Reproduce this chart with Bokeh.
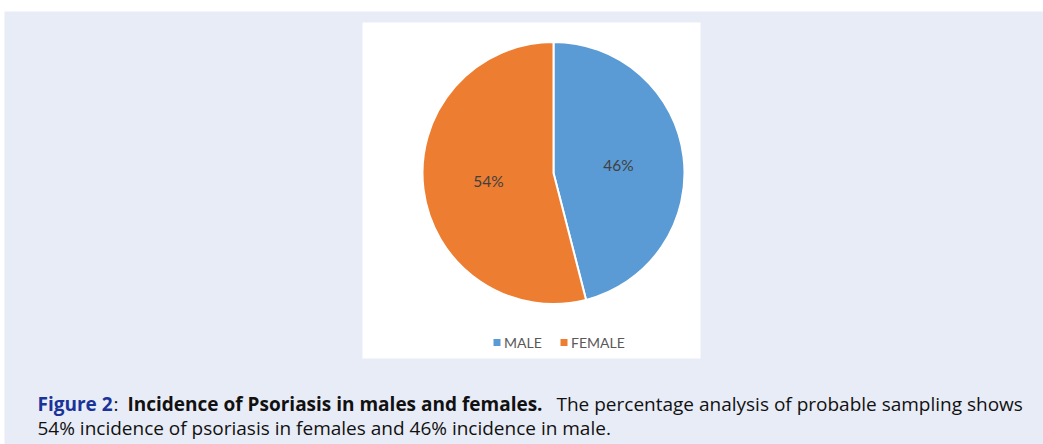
import math
from bokeh.plotting import figure
from bokeh.models import Range1d, ColumnDataSource
from bokeh.core.properties import value
from bokeh.embed import file_html
from bokeh.resources import INLINE

# ---- data ----
categories = ["MALE", "FEMALE"]
percentages = [46, 54]
slice_colors = ["#5B9BD5", "#ED7D31"]

caption_line1 = ["Figure 2", ":", "Incidence of Psoriasis in males and females.",
                 "The percentage analysis of probable sampling shows"]
caption_line2 = "54% incidence of psoriasis in females and 46% incidence in male."

W, H = 1043, 444
p = figure(width=W, height=H, output_backend="svg", toolbar_location=None,
           x_range=Range1d(0, W), y_range=Range1d(-H, 0),
           min_border=0, outline_line_color=None)
p.axis.visible = False
p.grid.visible = False
p.background_fill_color = "#FFFFFF"
p.border_fill_color = "#FFFFFF"

# light panel
p.quad(left=[4], right=[W + 10], top=[-11], bottom=[-H - 10], fill_color="#E8ECF6", line_color=None)
# white chart area
p.quad(left=[362], right=[700], top=[-22], bottom=[-358], fill_color="#FFFFFF", line_color=None)

# ---- pie ----
cx, cy, r = 553, -172.5, 131
total = sum(percentages)
starts, ends, mids = [], [], []
acc = 0.0
for v in percentages:
    a0 = math.pi / 2 - 2 * math.pi * acc / total
    acc += v
    a1 = math.pi / 2 - 2 * math.pi * acc / total
    starts.append(a0)
    ends.append(a1)
    mids.append((a0 + a1) / 2)

src = ColumnDataSource(dict(x=[cx] * len(percentages), y=[cy] * len(percentages),
                            start=starts, end=ends, color=slice_colors))
p.wedge(x="x", y="y", radius=r, radius_units="screen", start_angle="start", end_angle="end",
        direction="clock", fill_color="color", line_color="#FFFFFF", line_width=2, source=src)

lx = [cx + 0.5 * r * math.cos(m) for m in mids]
ly = [cy + 0.5 * r * math.sin(m) for m in mids]
p.text(x=lx, y=ly, text=[f"{v}%" for v in percentages], text_align="center",
       text_baseline="middle", text_color="#404040", text_font=value("Lato"),
       text_font_size="15.5px")

# ---- legend ----
leg_x = [496.5, 563.5]
p.rect(x=leg_x, y=[-342] * 2, width=7, height=7, width_units="screen", height_units="screen",
       fill_color=slice_colors, line_color=None)
p.text(x=[x + 7 for x in leg_x], y=[-342] * 2, text=categories, text_align="left",
       text_baseline="middle", text_color="#595959", text_font=value("Lato"),
       text_font_size="14px")

# ---- caption ----
font = value("Open Sans")
fs = "19px"
common = dict(text_font=font, text_font_size=fs, text_baseline="alphabetic")
p.text(x=[37], y=[-403], text=[caption_line1[0]], text_color="#1A3399",
       text_font_style="bold", **common)
p.text(x=[113], y=[-403], text=[caption_line1[1]], text_color="#111111", **common)
p.text(x=[127], y=[-403], text=[caption_line1[2]], text_color="#111111",
       text_font_style="bold", **common)
p.text(x=[556], y=[-403], text=[caption_line1[3]], text_color="#111111", **common)
p.text(x=[37], y=[-427], text=[caption_line2], text_color="#111111", **common)

open("out.html", "w").write(file_html(p, INLINE))
